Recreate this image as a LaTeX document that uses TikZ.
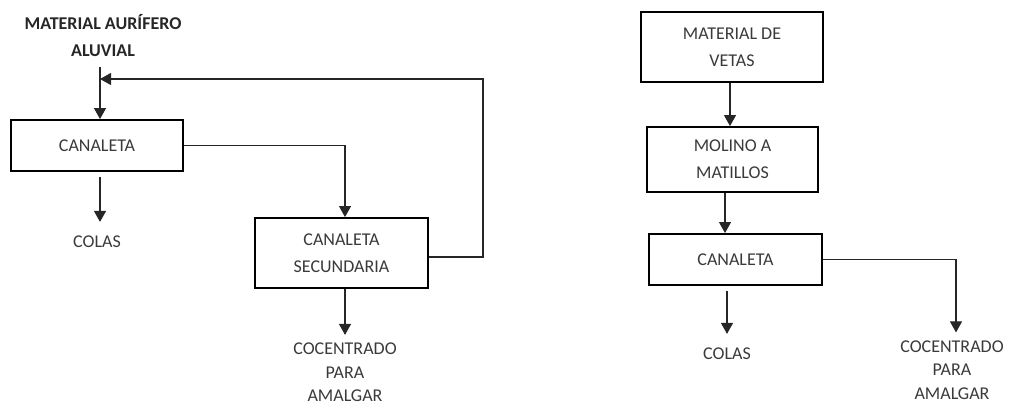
\documentclass[tikz,border=0pt]{standalone}
\usepackage{fontspec}
\setmainfont{Carlito}
\usetikzlibrary{arrows.meta}
\definecolor{ink}{HTML}{3A3A3A}
\tikzset{
  box/.style={draw=black, line width=1.9pt, fill=white, text=ink, align=center,
    inner sep=0pt, font=\fontsize{18}{27}\selectfont},
  lbl/.style={text=ink, align=center, inner sep=0pt, font=\fontsize{18}{23.5}\selectfont},
  flow/.style={draw=black!85, line width=1.1pt, -{Triangle[width=12pt,length=11pt]}},
}
\begin{document}
\begin{tikzpicture}[x=1pt,y=-1pt]
\useasboundingbox (0,0) rectangle (1011,405);

% ---- alluvial gold material ----
\node[lbl, text=black!85, font=\bfseries\fontsize{18}{27}\selectfont] (title) at (103,35.5)
  {MATERIAL AURÍFERO\\ALUVIAL};
\coordinate (feed) at (100,67);
\coordinate (ret) at (483,79);
\node[box, minimum width=172pt, minimum height=51pt] (can1) at (97,145.5) {CANALETA};
\node[box, minimum width=173pt, minimum height=70pt] (sec) at (341.5,253) {CANALETA\\SECUNDARIA};
\node[lbl] (colas1) at (97,242) {COLAS};
\node[lbl] (cout1) at (345,372.5) {COCENTRADO\\PARA\\AMALGAR};
\coordinate (c1) at (100,177);

\draw[flow] (feed) -- (feed |- can1.north);
\draw[flow] (can1.east) -| ([xshift=3.5pt]sec.north);
\draw[flow] ([yshift=-4pt]sec.east) -| (ret) -- (ret -| feed);
\draw[flow, shorten >=14pt] (c1) -- (c1 |- colas1.north);
\draw[flow, shorten >=8pt] ([xshift=3.5pt]sec.south) -- ([xshift=3.5pt]sec.south |- cout1.north);

% ---- vein material ----
\node[box, minimum width=182pt, minimum height=70pt] (vet) at (732,47) {MATERIAL DE\\VETAS};
\node[box, minimum width=171pt, minimum height=65pt] (mol) at (732.5,159.5) {MOLINO A\\MATILLOS};
\node[box, minimum width=173pt, minimum height=51pt] (can2) at (735.5,259.5) {CANALETA};
\node[lbl] (colas2) at (727,354) {COLAS};
\node[lbl] (cout2) at (952,370) {COCENTRADO\\PARA\\AMALGAR};
\coordinate (c2) at (727,291);

\draw[flow] ([xshift=-2pt]vet.south) -- ([xshift=-2.5pt]mol.north);
\draw[flow] ([xshift=-7.5pt]mol.south) -- ([xshift=-10.5pt]can2.north);
\draw[flow, shorten >=8pt] (can2.east) -| ([xshift=4pt]cout2.north);
\draw[flow, shorten >=14pt] (c2) -- (c2 |- colas2.north);
\end{tikzpicture}
\end{document}
